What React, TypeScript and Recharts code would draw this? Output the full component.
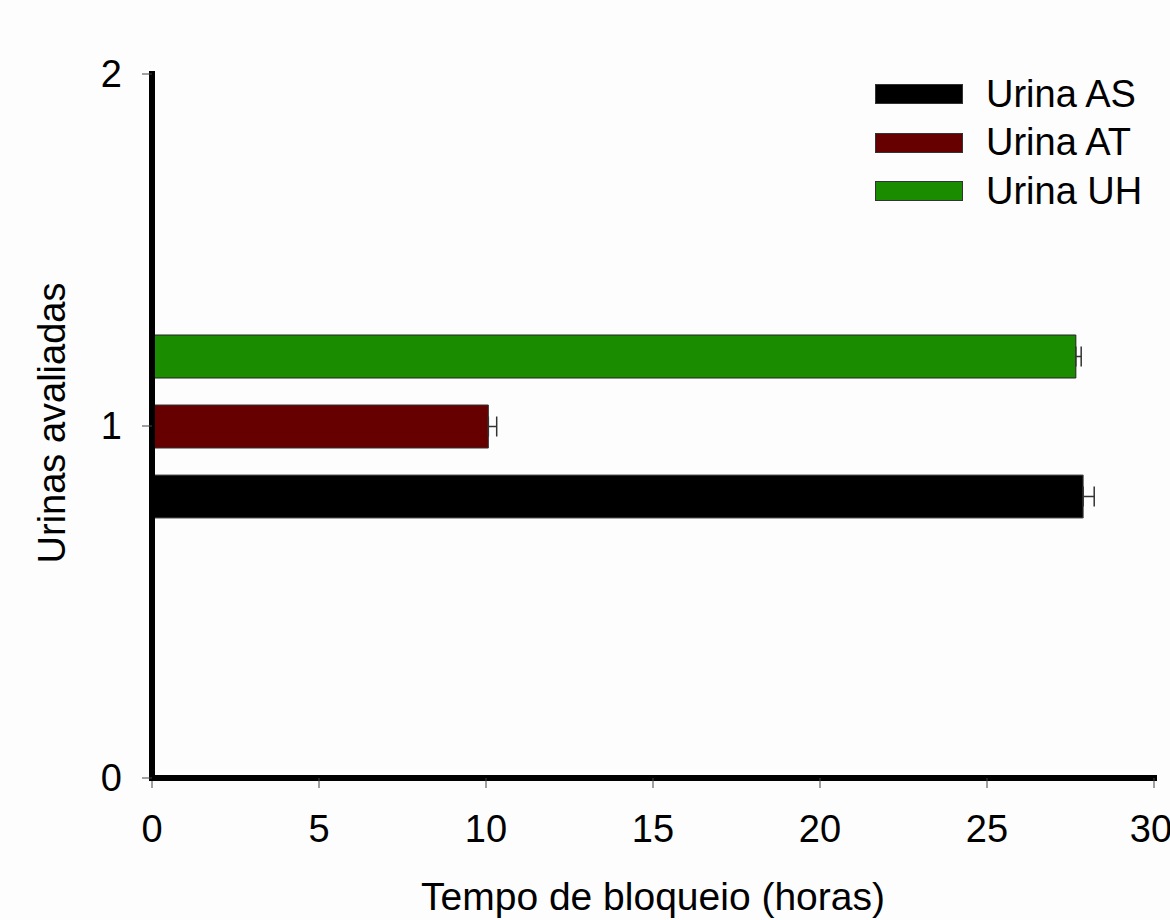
import { BarChart, Bar, XAxis, YAxis, ErrorBar, Legend } from "recharts";

// Blocking time (hours) per urine sample; only group 1 holds measurements
const GRUPO = [0, 1, 2];
const URINA_AS = [null, 27.88, null];
const ERRO_AS = [null, 0.33, null];
const URINA_AT = [null, 10.07, null];
const ERRO_AT = [null, 0.25, null];
const URINA_UH = [null, 27.66, null];
const ERRO_UH = [null, 0.16, null];

const NOMES = { as: "Urina AS", at: "Urina AT", uh: "Urina UH" };
const CORES = { as: "#000000", at: "#660000", uh: "#1a8c00" };

const X_TICKS = [0, 5, 10, 15, 20, 25, 30];
const Y_TICKS = [0, 1, 2];

const erro = (e: number | null) => (e == null ? undefined : [0, e]);

const data = GRUPO.map((g, i) => ({
  grupo: g,
  as: URINA_AS[i],
  asErr: erro(ERRO_AS[i]),
  at: URINA_AT[i],
  atErr: erro(ERRO_AT[i]),
  uh: URINA_UH[i],
  uhErr: erro(ERRO_UH[i]),
}));

const FONT = "'Liberation Sans', Arial, sans-serif";

const YTitle = (props: any) => {
  const vb = props.viewBox || { x: 0, y: 74, width: 152, height: 704 };
  const cx = 52;
  const cy = vb.y + vb.height / 2 - 3;
  return (
    <text
      x={cx}
      y={cy}
      transform={`rotate(-90 ${cx} ${cy})`}
      textAnchor="middle"
      dominantBaseline="central"
      fontSize={38}
      fontFamily={FONT}
      fill="#000"
    >
      Urinas avaliadas
    </text>
  );
};

const LegendBox = (props: any) => {
  const items = props.payload || [];
  return (
    <div style={{ fontFamily: FONT }}>
      {items.map((it: any) => (
        <div key={it.value} style={{ display: "flex", alignItems: "center", height: 48.5 }}>
          <div
            style={{
              width: 88,
              height: 20,
              boxSizing: "border-box",
              background: it.color,
              border: "1px solid #333",
            }}
          />
          <span style={{ marginLeft: 23, fontSize: 38, color: "#000", whiteSpace: "nowrap" }}>
            {it.value}
          </span>
        </div>
      ))}
    </div>
  );
};

export default function App() {
  return (
    <div style={{ position: "absolute", left: 0, top: 0, width: 1170, height: 920, background: "#fdfdfd" }}>
      <BarChart
        width={1170}
        height={920}
        data={data}
        layout="vertical"
        margin={{ top: 74, right: 16, bottom: 0, left: 0 }}
        barSize={43}
        barGap={27}
      >
        <XAxis
          type="number"
          domain={[0, 30]}
          ticks={X_TICKS}
          height={142}
          axisLine={{ stroke: "#000", strokeWidth: 6, strokeLinecap: "square" }}
          tickLine={{ stroke: "#444", strokeWidth: 1 }}
          tickSize={10}
          tickMargin={27}
          tick={{ fill: "#000", fontSize: 38, fontFamily: FONT }}
          label={{
            value: "Tempo de bloqueio (horas)",
            position: "insideBottom",
            offset: 10,
            fontSize: 39,
            fontFamily: FONT,
            fill: "#000",
          }}
        />
        <YAxis
          type="number"
          dataKey="grupo"
          domain={[0, 2]}
          ticks={Y_TICKS}
          reversed
          width={152}
          axisLine={{ stroke: "#000", strokeWidth: 6, strokeLinecap: "square" }}
          tickLine={{ stroke: "#444", strokeWidth: 1 }}
          tickSize={10}
          tickMargin={20}
          tick={{ fill: "#000", fontSize: 38, fontFamily: FONT }}
          label={<YTitle />}
        />
        <Legend
          layout="vertical"
          align="center"
          verticalAlign="middle"
          content={<LegendBox />}
          wrapperStyle={{ left: 875, top: 70, width: 295, height: 150 }}
        />
        <Bar dataKey="uh" name={NOMES.uh} fill={CORES.uh} stroke="#222" strokeWidth={1} isAnimationActive={false}>
          <ErrorBar dataKey="uhErr" direction="x" width={10} stroke="#333" strokeWidth={1.5} />
        </Bar>
        <Bar dataKey="at" name={NOMES.at} fill={CORES.at} stroke="#333" strokeWidth={1} isAnimationActive={false}>
          <ErrorBar dataKey="atErr" direction="x" width={10} stroke="#333" strokeWidth={1.5} />
        </Bar>
        <Bar dataKey="as" name={NOMES.as} fill={CORES.as} stroke="#555" strokeWidth={1} isAnimationActive={false}>
          <ErrorBar dataKey="asErr" direction="x" width={10} stroke="#333" strokeWidth={1.5} />
        </Bar>
      </BarChart>
    </div>
  );
}
